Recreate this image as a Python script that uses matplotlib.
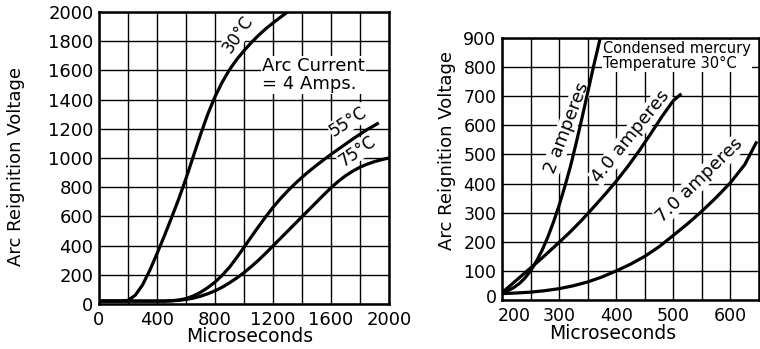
import matplotlib
matplotlib.use("Agg")
import matplotlib.pyplot as plt
from matplotlib.transforms import ScaledTranslation
import numpy as np

# ---------------- data ----------------
# Left chart: Arc current = 4 A, three temperatures
t30_x = [0, 100, 150, 200, 250, 300, 350, 400, 450, 500, 550, 600, 650, 700, 750, 800,
         850, 900, 950, 1000, 1050, 1100, 1150, 1200, 1250, 1300]
t30_y = [20, 20, 20, 25, 60, 130, 230, 345, 465, 590, 720, 860, 1010, 1160, 1300, 1420,
         1520, 1605, 1675, 1735, 1790, 1840, 1885, 1925, 1963, 2000]

t55_x = [0, 450, 500, 550, 600, 650, 700, 750, 800, 850, 900, 950, 1000, 1050, 1100, 1150,
         1200, 1250, 1300, 1350, 1400, 1450, 1500, 1550, 1600, 1650, 1700, 1750, 1800, 1850, 1920]
t55_y = [20, 20, 22, 27, 37, 55, 80, 112, 150, 197, 252, 318, 388, 460, 530, 598,
         662, 720, 773, 822, 868, 910, 950, 988, 1025, 1060, 1095, 1130, 1163, 1195, 1235]

t75_x = [0, 450, 500, 550, 600, 650, 700, 750, 800, 850, 900, 950, 1000, 1050, 1100, 1150,
         1200, 1250, 1300, 1350, 1400, 1450, 1500, 1550, 1600, 1650, 1700, 1750, 1800, 1850,
         1900, 1950, 2000]
t75_y = [20, 20, 22, 25, 31, 40, 53, 70, 90, 115, 145, 178, 215, 256, 300, 348,
         398, 448, 498, 548, 598, 648, 698, 748, 796, 840, 878, 910, 937, 958,
         975, 989, 1000]

left_xticks = [0, 400, 800, 1200, 1600, 2000]
left_yticks = [0, 200, 400, 600, 800, 1000, 1200, 1400, 1600, 1800, 2000]

# Right chart: condensed mercury temperature 30 C, three currents
a2_x = [200, 210, 220, 230, 240, 250, 260, 270, 280, 290, 300, 310, 320, 330, 340, 350, 360, 372]
a2_y = [25, 32, 42, 56, 75, 100, 132, 170, 215, 267, 325, 390, 460, 540, 625, 712, 800, 900]

a4_x = [200, 210, 220, 230, 240, 250, 260, 270, 280, 290, 300, 320, 340, 360, 380, 400,
        420, 440, 460, 480, 500, 512]
a4_y = [25, 42, 59, 76, 93, 110, 127, 144, 162, 180, 198, 235, 275, 318, 362, 408,
        458, 512, 570, 630, 685, 705]

a7_x = [200, 225, 250, 275, 300, 325, 350, 375, 400, 425, 450, 475, 500, 525, 550, 575,
        600, 625, 645]
a7_y = [22, 24, 27, 32, 39, 49, 62, 79, 100, 123, 150, 183, 222, 262, 305, 352,
        403, 465, 540]

right_xticks = [200, 300, 400, 500, 600]
right_yticks = [0, 100, 200, 300, 400, 500, 600, 700, 800, 900]

# ---------------- figure ----------------
W, H = 760, 349
fig = plt.figure(figsize=(W / 100, H / 100), dpi=100)
plt.rcParams['font.family'] = ['DejaVu Sans']


def px_axes(x0, y0, x1, y1):
    return fig.add_axes([x0 / W, 1 - y1 / H, (x1 - x0) / W, (y1 - y0) / H])


LW = 2.3
GRID = dict(color='black', linewidth=1.0, zorder=1)
wb = dict(facecolor='white', edgecolor='none', pad=0.5)
TZ = 2   # labels: above grid, below curves

# Left axes
axL = px_axes(99, 12, 389, 304)
axL.set_axisbelow(True)
axL.set_xlim(0, 2000)
axL.set_ylim(0, 2000)
axL.set_xticks(left_xticks)
axL.set_yticks(left_yticks)
axL.set_xticks(np.arange(0, 2001, 200), minor=True)
axL.grid(True, which='both', **GRID)
axL.tick_params(which='both', length=0, labelsize=13, pad=4)
axL.tick_params(axis='x', pad=5)
for s in axL.spines.values():
    s.set_linewidth(1.8)
for xs, ys in [(t30_x, t30_y), (t55_x, t55_y), (t75_x, t75_y)]:
    axL.plot(xs, ys, color='black', lw=LW, solid_joinstyle='round', zorder=3)
axL.set_xlabel('Microseconds', fontsize=13.5, labelpad=0)
axL.xaxis.set_label_coords(0.52, -0.08)
axL.set_ylabel('Arc Reignition Voltage', fontsize=13)
axL.yaxis.set_label_coords(-0.255, 0.47)

axL.text(960, 1850, '30°C', rotation=56, fontsize=12, ha='center', va='center', bbox=wb, zorder=TZ)
axL.text(1720, 1250, '55°C', rotation=33, fontsize=12, ha='center', va='center', bbox=wb, zorder=TZ)
axL.text(1780, 1045, '75°C', rotation=35, fontsize=12, ha='center', va='center', bbox=wb, zorder=TZ)
axL.text(1125, 1690, 'Arc Current\n= 4 Amps.', fontsize=13, ha='left', va='top',
         linespacing=0.95, bbox=dict(facecolor='white', edgecolor='none', pad=1), zorder=TZ)

# Right axes
axR = px_axes(502, 38, 759, 300)
axR.set_axisbelow(True)
axR.set_xlim(200, 644)
axR.set_ylim(0, 900)
axR.set_xticks(right_xticks)
axR.set_yticks(right_yticks)
axR.set_xticks(np.arange(200, 651, 50), minor=True)
axR.grid(True, which='both', **GRID)
axR.tick_params(which='both', length=0, labelsize=12.5, pad=4)
axR.tick_params(axis='x', pad=5)
for s in axR.spines.values():
    s.set_linewidth(1.8)
for xs, ys in [(a2_x, a2_y), (a4_x, a4_y), (a7_x, a7_y)]:
    axR.plot(xs, ys, color='black', lw=LW, solid_joinstyle='round', zorder=3)
axR.set_xlabel('Microseconds', fontsize=13.5, labelpad=0)
axR.xaxis.set_label_coords(0.43, -0.09)
axR.set_ylabel('Arc Reignition Voltage', fontsize=13)
axR.yaxis.set_label_coords(-0.18, 0.57)

# shift the first x tick label right (as in the reference) and the 0 y label up
lab200 = axR.get_xticklabels()[0]
lab200.set_transform(lab200.get_transform() + ScaledTranslation(0.12, 0, fig.dpi_scale_trans))
lab0 = axR.get_yticklabels()[0]
lab0.set_transform(lab0.get_transform() + ScaledTranslation(0, 0.04, fig.dpi_scale_trans))

axR.text(313, 590, '2 amperes', rotation=69, fontsize=13, ha='center', va='center', bbox=wb, zorder=TZ)
axR.text(425, 562, '4.0 amperes', rotation=51, fontsize=13, ha='center', va='center', bbox=wb, zorder=TZ)
axR.text(546, 412, '7.0 amperes', rotation=44, fontsize=13, ha='center', va='center', bbox=wb, zorder=TZ)
axR.text(377, 838, 'Condensed mercury\nTemperature 30°C', fontsize=10.5, ha='left', va='center',
         linespacing=1.05, bbox=dict(facecolor='white', edgecolor='none', pad=0.5), zorder=TZ)

fig.savefig('out.png', dpi=100)
